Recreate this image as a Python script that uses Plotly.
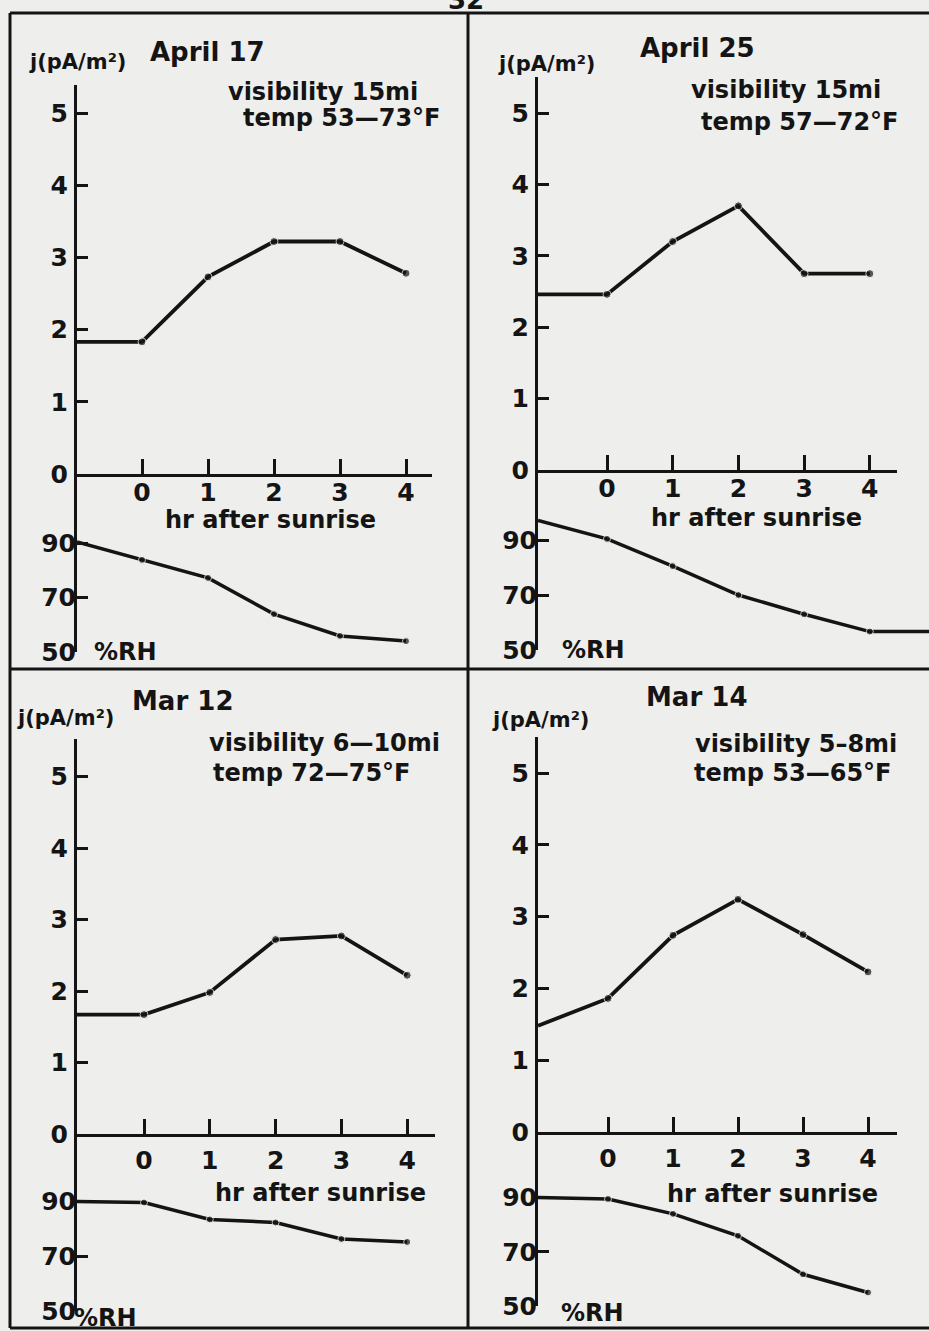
import plotly.graph_objects as go

W, H = 929, 1331
FIG_H = 1346  # the page is shown squeezed to 1331 px high; this compensates

# ---------------- data ----------------
hours = [0, 1, 2, 3, 4]
hour_labels = ["0", "1", "2", "3", "4"]
j_ticks = [0, 1, 2, 3, 4, 5]
rh_ticks = [50, 70, 90]

dates = ["April 17", "April 25", "Mar 12", "Mar 14"]
visibility = ["visibility 15mi", "visibility 15mi", "visibility 6\u201410mi", "visibility 5\u20138mi"]
temps = ["temp 53\u201473\u00b0F", "temp 57\u201472\u00b0F", "temp 72\u201475\u00b0F", "temp 53\u201465\u00b0F"]

# current density j (pA/m^2): value at left axis edge, then at hours 0..4
j_start = [1.83, 2.46, 1.67, 1.48]
j_apr17 = [1.83, 2.73, 3.22, 3.22, 2.78]
j_apr25 = [2.46, 3.20, 3.70, 2.75, 2.75]
j_mar12 = [1.67, 1.98, 2.72, 2.77, 2.22]
j_mar14 = [1.86, 2.74, 3.24, 2.75, 2.23]

# relative humidity (%): value at left axis edge, then at hours 0..4
rh_start = [90.4, 97.1, 90.0, 90.0]
rh_apr17 = [83.8, 77.2, 63.9, 55.9, 54.0]
rh_apr25 = [90.4, 80.5, 70.0, 63.0, 56.7]
rh_mar12 = [89.6, 83.4, 82.3, 76.3, 75.2]
rh_mar14 = [89.5, 84.0, 75.9, 61.7, 55.0]

j_series = [j_apr17, j_apr25, j_mar12, j_mar14]
rh_series = [rh_apr17, rh_apr25, rh_mar12, rh_mar14]
rh_extends_right = [False, True, False, False]

# ---------------- geometry (pixels of the 929x1331 sheet) ----------------
panels = [
    dict(ax=77, x0=142, pxhr=66.0, xr=432, j0=474, pxj=72.2, jtop=85, rh50=652, pxrh=2.725, rhr=432,
         xso=-6,
         jl=(77, 62), dl=(207, 52), vl=(323, 92), tl=(341, 118), hl=(270, 520), pl=(125, 652)),
    dict(ax=538, x0=607, pxhr=65.7, xr=897, j0=470, pxj=71.4, jtop=77, rh50=650, pxrh=2.75, rhr=929,
         xso=-6,
         jl=(546, 64), dl=(697, 48), vl=(786, 90), tl=(799, 122), hl=(756, 518), pl=(593, 650)),
    dict(ax=77, x0=144, pxhr=65.8, xr=435, j0=1134, pxj=71.5, jtop=739, rh50=1311, pxrh=2.74, rhr=435,
         xso=2,
         jl=(65, 718), dl=(182, 701), vl=(324, 743), tl=(311, 773), hl=(320, 1193), pl=(105, 1318)),
    dict(ax=538, x0=608, pxhr=65.0, xr=897, j0=1132, pxj=71.8, jtop=737, rh50=1306, pxrh=2.71, rhr=897,
         xso=2,
         jl=(540, 720), dl=(696, 697), vl=(796, 744), tl=(792, 773), hl=(772, 1194), pl=(592, 1313)),
]

INK = "#141414"
BG = "#eeeeec"
FONT = "DejaVu Sans"


def fx(px):
    return px / W


def fy(py):
    return 1 - py / H


fig = go.Figure()
layout = {}
annotations = []

for i, g in enumerate(panels):
    nj = 2 * i + 1
    nr = 2 * i + 2
    xmin = (g["ax"] - g["x0"]) / g["pxhr"]
    xmax = (g["xr"] - g["x0"]) / g["pxhr"]
    rxmax = (g["rhr"] - g["x0"]) / g["pxhr"]
    jmax = (g["j0"] - g["jtop"]) / g["pxj"]
    rhmax = 50 + (g["rh50"] - g["j0"]) / g["pxrh"]

    xs = [xmin] + hours
    fig.add_trace(go.Scatter(
        x=xs, y=[j_start[i]] + j_series[i], mode="lines+markers",
        line=dict(color=INK, width=3.8), marker=dict(color=INK, size=[0, 8, 8, 8, 8, 8]),
        xaxis=f"x{nj}", yaxis=f"y{nj}", showlegend=False, hoverinfo="skip"))
    rx = [xmin] + hours
    ry = [rh_start[i]] + rh_series[i]
    msz = [0, 7, 7, 7, 7, 7]
    if rh_extends_right[i]:
        rx = rx + [rxmax]
        ry = ry + [rh_series[i][-1]]
        msz = msz + [0]
    fig.add_trace(go.Scatter(
        x=rx, y=ry, mode="lines+markers",
        line=dict(color=INK, width=3.5), marker=dict(color=INK, size=msz),
        xaxis=f"x{nr}", yaxis=f"y{nr}", showlegend=False, hoverinfo="skip"))

    tickfont = dict(family=FONT, size=25, color=INK, weight="bold")
    layout[f"xaxis{nj}"] = dict(
        domain=[fx(g["ax"]), fx(g["xr"])], range=[xmin, xmax], anchor=f"y{nj}",
        showline=True, linewidth=3, linecolor=INK, ticks="inside", ticklen=15, tickwidth=3,
        tickcolor=INK, tickvals=hours, ticktext=hour_labels, tickfont=tickfont,
        ticklabelstandoff=g["xso"],
        showgrid=False, zeroline=False, fixedrange=True)
    layout[f"yaxis{nj}"] = dict(
        domain=[fy(g["j0"]), fy(g["jtop"])], range=[0, jmax], anchor=f"x{nj}",
        showline=True, linewidth=3, linecolor=INK, ticks="inside", ticklen=11, tickwidth=3,
        tickcolor=INK, tickvals=j_ticks, tickfont=tickfont, ticklabelstandoff=1,
        showgrid=False, zeroline=False, fixedrange=True)
    layout[f"xaxis{nr}"] = dict(
        domain=[fx(g["ax"]), fx(g["rhr"])], range=[xmin, rxmax], anchor=f"y{nr}",
        visible=False, fixedrange=True)
    layout[f"yaxis{nr}"] = dict(
        domain=[fy(g["rh50"]), fy(g["j0"])], range=[50, rhmax], anchor=f"x{nr}",
        showline=True, linewidth=3, linecolor=INK, ticks="inside", ticklen=11, tickwidth=3,
        tickcolor=INK, tickvals=rh_ticks, tickfont=tickfont, ticklabelstandoff=-7,
        showgrid=False, zeroline=False, fixedrange=True)

    def ann(text, pos, size=26):
        annotations.append(dict(
            text=text, x=fx(pos[0]), y=fy(pos[1]), xref="paper", yref="paper",
            xanchor="center", yanchor="middle", showarrow=False,
            font=dict(family=FONT, size=size, color=INK, weight="bold")))

    ann("j(pA/m\u00b2)", g["jl"], 21)
    ann(dates[i], g["dl"], 26)
    ann(visibility[i], g["vl"], 24)
    ann(temps[i], g["tl"], 24)
    ann("hr after sunrise", g["hl"], 24)
    ann("%RH", g["pl"], 24)

# page number, partly cut off at the top edge
annotations.append(dict(text="32", x=fx(466), y=fy(0), xref="paper", yref="paper",
                        xanchor="center", yanchor="middle", showarrow=False,
                        font=dict(family=FONT, size=26, color=INK, weight="bold")))

# frame lines of the four-panel sheet
frame = []
def seg(x0, y0, x1, y1):
    frame.append(dict(type="line", xref="paper", yref="paper",
                      x0=fx(x0), y0=fy(y0), x1=fx(x1), y1=fy(y1),
                      line=dict(color=INK, width=3)))
seg(10, 13, 929, 13)
seg(10, 13, 10, 1328)
seg(468, 13, 468, 1328)
seg(10, 669, 929, 669)
seg(10, 1328, 929, 1328)

fig.update_layout(
    width=W, height=FIG_H, margin=dict(l=0, r=0, t=0, b=0),
    paper_bgcolor=BG, plot_bgcolor=BG, showlegend=False,
    annotations=annotations, shapes=frame, **layout)

page_css = (
    "var de=document.documentElement, b=document.body;"
    "de.style.margin='0'; de.style.padding='0'; de.style.overflow='hidden';"
    "b.style.margin='0'; b.style.padding='0'; b.style.overflow='hidden';"
    "b.style.background='#eeeeec';"
)

fig.write_html("out.html", config={"displayModeBar": False, "staticPlot": True},
               post_script=page_css)
